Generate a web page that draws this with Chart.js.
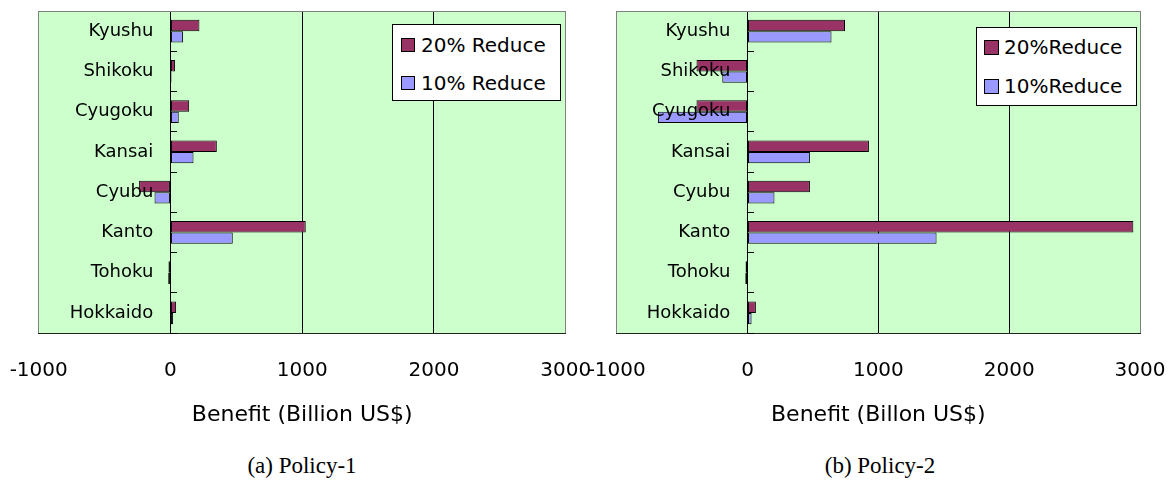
<!DOCTYPE html>
<html>
<head>
<meta charset="utf-8">
<script src="https://cdn.jsdelivr.net/npm/chart.js@4.4.1/dist/chart.umd.min.js"></script>
<style>
  body { margin: 0; background: #fff; }
  #wrap { position: relative; width: 1173px; height: 493px; overflow: hidden; }
  canvas { position: absolute; left: 0; top: 0; }
  .legend { position: absolute; background: #fff; border: 1px solid #000; box-sizing: border-box;
            font-family: "DejaVu Sans"; font-size: 20px; color: #000; z-index: 5; }
  .legend .sw { position: absolute; box-sizing: border-box; border: 1px solid #000; }
  .legend .txt { position: absolute; white-space: nowrap; line-height: 24px; }
  .caption { position: absolute; font-family: "Liberation Serif"; font-size: 23px; line-height: 26px;
             color: #000; white-space: nowrap; transform: translateX(-50%); }
</style>
</head>
<body>
<div id="wrap">
  <canvas id="chart1" width="1173" height="440"></canvas>
  <canvas id="chart2" width="1173" height="440"></canvas>
  <div class="legend" id="legend1" style="left:392px; top:24px; width:169px; height:77px;"></div>
  <div class="legend" id="legend2" style="left:976px; top:27px; width:161px; height:79px;"></div>
  <div class="caption" style="left:302px; top:453px;">(a) Policy-1</div>
  <div class="caption" style="left:880px; top:453px;">(b) Policy-2</div>
</div>
<script>
var categories = ["Kyushu", "Shikoku", "Cyugoku", "Kansai", "Cyubu", "Kanto", "Tohoku", "Hokkaido"];
var xTicks = [-1000, 0, 1000, 2000, 3000];

// Policy-1 (billion US$)
var policy1Reduce20 = [220, 35, 142, 352, -238, 1027, -15, 43];
var policy1Reduce10 = [96, 8, 63, 175, -121, 473, -17, 20];

// Policy-2 (billion US$)
var policy2Reduce20 = [745, -390, -390, 928, 477, 2949, -15, 64];
var policy2Reduce10 = [642, -193, -685, 477, 206, 1445, -17, 31];

var legendNames1 = ["20% Reduce", "10% Reduce"];
var legendNames2 = ["20%Reduce", "10%Reduce"];
var axisTitle1 = "Benefit (Billion US$)";
var axisTitle2 = "Benefit (Billon US$)";
var colors = ["#993366", "#9999FF"];

// green plot area + grey top edge
var plotBox = {
  id: "plotBox",
  beforeDraw: function(chart) {
    var a = chart.chartArea, ctx = chart.ctx;
    ctx.save();
    ctx.fillStyle = "#CCFFCC";
    ctx.fillRect(a.left, a.top, a.right - a.left, a.bottom - a.top);
    ctx.restore();
  },
  afterDraw: function(chart) {
    var a = chart.chartArea, ctx = chart.ctx;
    ctx.save();
    ctx.strokeStyle = "#808080";
    ctx.lineWidth = 1;
    ctx.beginPath();
    ctx.moveTo(a.left, Math.round(a.top) + 0.5);
    ctx.lineTo(a.right, Math.round(a.top) + 0.5);
    ctx.stroke();
    ctx.restore();
  }
};

function makeChart(id, s20, s10, names, title, pad) {
  var ds = function(name, data, color) {
    return {
      label: name, data: data, backgroundColor: color,
      borderColor: "#000", borderWidth: 1, borderSkipped: false,
      categoryPercentage: 0.56, barPercentage: 1
    };
  };
  return new Chart(document.getElementById(id).getContext("2d"), {
    type: "bar",
    data: {
      labels: categories,
      datasets: [ds(names[0], s20, colors[0]), ds(names[1], s10, colors[1])]
    },
    options: {
      indexAxis: "y",
      responsive: false,
      animation: false,
      layout: { padding: pad },
      plugins: { legend: { display: false }, tooltip: { enabled: false } },
      scales: {
        x: {
          type: "linear", min: -1000, max: 3000,
          afterBuildTicks: function(axis) {
            axis.ticks = xTicks.map(function(v) { return { value: v }; });
          },
          grid: {
            color: function(c) {
              var v = c.tick ? c.tick.value : null;
              if (v === 0) return "rgba(0,0,0,0)";
              if (v === -1000 || v === 3000) return "#808080";
              return "#000";
            },
            lineWidth: 1, tickLength: 26, tickColor: "rgba(0,0,0,0)"
          },
          border: { color: "#222", width: 1 },
          ticks: {
            padding: 0, color: "#000",
            font: { family: "DejaVu Sans", size: 20 },
            callback: function(v) { return String(v); }
          },
          title: {
            display: true, text: title, color: "#000",
            font: { family: "DejaVu Sans", size: 22 },
            padding: { top: 19, bottom: 0 }
          }
        },
        y: {
          type: "category", offset: true,
          position: { x: 0 },
          grid: { drawOnChartArea: false, offset: true, tickLength: -7, color: "#000", tickColor: "#000", z: 1 },
          border: { color: "#000", width: 1, z: 1 },
          ticks: {
            padding: 0, color: "#000", z: 2,
            font: { family: "DejaVu Sans", size: 18 },
            callback: function(v) { return this.getLabelForValue(v) + "\u00a0\u00a0\u00a0"; }
          }
        }
      }
    },
    plugins: [plotBox]
  });
}

makeChart("chart1", policy1Reduce20, policy1Reduce10, legendNames1, axisTitle1,
  { left: 38.7, right: 1173 - 565.7, top: 11, bottom: 11.6 });
makeChart("chart2", policy2Reduce20, policy2Reduce10, legendNames2, axisTitle2,
  { left: 616.7, right: 1173 - 1140, top: 11, bottom: 11.6 });

// html legend boxes, built from the same names / colours
function makeLegend(id, names, o) {
  var box = document.getElementById(id);
  names.forEach(function(name, i) {
    var cy = o.rows[i];
    var sw = document.createElement("div");
    sw.className = "sw";
    sw.style.left = o.swLeft + "px";
    sw.style.top = (cy - o.sw / 2) + "px";
    sw.style.width = o.sw + "px";
    sw.style.height = o.sw + "px";
    sw.style.background = colors[i];
    box.appendChild(sw);
    var t = document.createElement("div");
    t.className = "txt";
    t.textContent = name;
    t.style.left = o.txtLeft + "px";
    t.style.top = (cy - 12) + "px";
    box.appendChild(t);
  });
}
makeLegend("legend1", legendNames1, { rows: [20, 58], swLeft: 8, sw: 14, txtLeft: 28 });
makeLegend("legend2", legendNames2, { rows: [19, 58], swLeft: 7, sw: 15, txtLeft: 27 });
</script>
</body>
</html>
